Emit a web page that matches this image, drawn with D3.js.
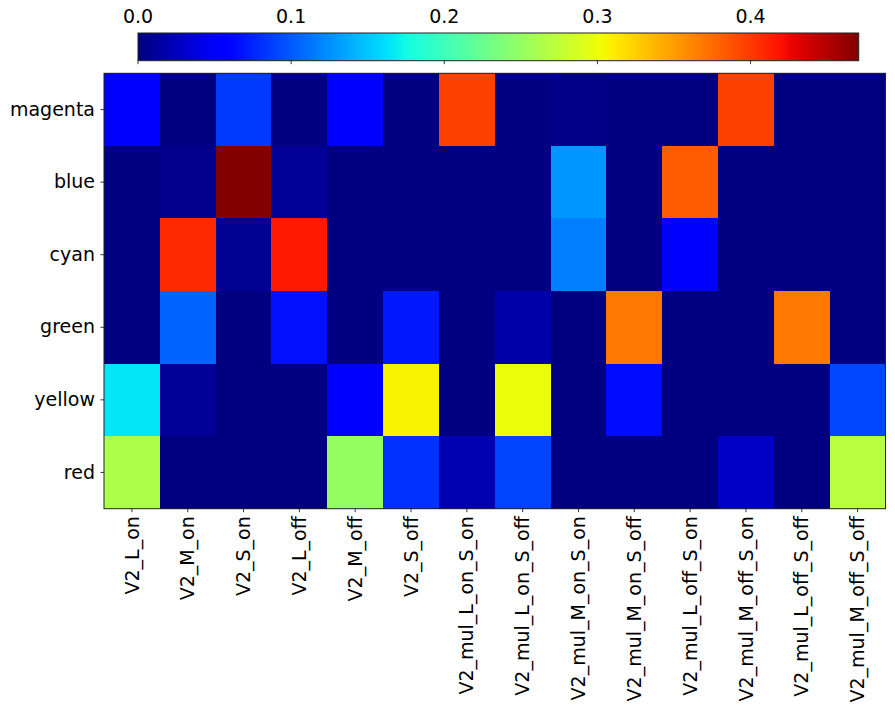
<!DOCTYPE html>
<html>
<head>
<meta charset="utf-8">
<script src="https://cdn.jsdelivr.net/npm/d3@7"></script>
<style>
  body { margin: 0; background: #fff; }
  text { font-family: "DejaVu Sans", sans-serif; fill: #000; }
</style>
</head>
<body>
<div id="chart"></div>
<script>
// row and column labels
const rows = ['magenta', 'blue', 'cyan', 'green', 'yellow', 'red'];
const cols = ['V2_L_on', 'V2_M_on', 'V2_S_on', 'V2_L_off', 'V2_M_off', 'V2_S_off',
  'V2_mul_L_on_S_on', 'V2_mul_L_on_S_off', 'V2_mul_M_on_S_on', 'V2_mul_M_on_S_off',
  'V2_mul_L_off_S_on', 'V2_mul_M_off_S_on', 'V2_mul_L_off_S_off', 'V2_mul_M_off_S_off'];

const magentaVals = [0.057, 0, 0.085, 0, 0.057, 0, 0.396, 0, 0.004, 0, 0, 0.396, 0, 0];
const blueVals    = [0, 0.005, 0.4706, 0.009, 0, 0, 0, 0, 0.128, 0, 0.383, 0, 0, 0];
const cyanVals    = [0, 0.408, 0.007, 0.416, 0, 0, 0, 0, 0.118, 0, 0.056, 0, 0, 0];
const greenVals   = [0, 0.105, 0, 0.066, 0, 0.070, 0, 0.017, 0, 0.3685, 0, 0, 0.3685, 0];
const yellowVals  = [0.165, 0.009, 0, 0, 0.058, 0.307, 0, 0.300, 0, 0.0645, 0, 0, 0, 0.092];
const redVals     = [0.264, 0, 0, 0, 0.25, 0.082, 0.020, 0.090, 0, 0, 0, 0.029, 0, 0.27];
const rowVals = [magentaVals, blueVals, cyanVals, greenVals, yellowVals, redVals];

const cbTicks = [0.0, 0.1, 0.2, 0.3, 0.4];
const vmax = 0.4706;

const W = 895, H = 720;
const plot = {left: 104, top: 73.3, right: 885.5, bottom: 508.7};
const cb = {left: 138, right: 858.7, top: 33, bottom: 60.7};
const fontSize = 19;

let svg = d3.select('#chart')
  .append('svg')
    .attr('width', W)
    .attr('height', H);

// matplotlib jet, piecewise linear per channel
let jetR = d3.scaleLinear().domain([0, 0.35, 0.66, 0.89, 1]).range([0, 0, 1, 1, 0.5]).clamp(true);
let jetG = d3.scaleLinear().domain([0, 0.125, 0.375, 0.64, 0.91, 1]).range([0, 0, 1, 1, 0, 0]).clamp(true);
let jetB = d3.scaleLinear().domain([0, 0.11, 0.34, 0.65, 1]).range([0.5, 1, 1, 0, 0]).clamp(true);
let jet = t => d3.rgb(jetR(t) * 255, jetG(t) * 255, jetB(t) * 255).formatHex();
let norm = d3.scaleLinear().domain([0, vmax]).range([0, 1]).clamp(true);

let x = d3.scaleBand().domain(cols).range([plot.left, plot.right]);
let y = d3.scaleBand().domain(rows).range([plot.top, plot.bottom]);

// cells
let cells = [];
rows.forEach((r, i) => cols.forEach((c, j) => cells.push({row: r, col: c, v: rowVals[i][j]})));

svg.append('g').attr('id', 'cells')
  .selectAll('rect')
  .data(cells)
  .enter()
  .append('rect')
    .attr('x', d => x(d.col))
    .attr('y', d => y(d.row))
    .attr('width', x.bandwidth() + 0.5)
    .attr('height', y.bandwidth() + 0.5)
    .attr('fill', d => jet(norm(d.v)))
    .attr('shape-rendering', 'crispEdges');

// axes
let xAxis = svg.append('g')
  .attr('transform', `translate(0, ${plot.bottom})`)
  .call(d3.axisBottom(x).tickSize(3.5).tickPadding(4).tickSizeOuter(0));
xAxis.select('.domain').remove();
xAxis.selectAll('.tick text')
  .attr('transform', 'rotate(-90)')
  .attr('x', -7.5)
  .attr('y', 0)
  .attr('dy', '0.35em')
  .style('text-anchor', 'end')
  .style('font-size', fontSize + 'px')
  .style('font-family', '"DejaVu Sans", sans-serif');

let yAxis = svg.append('g')
  .attr('transform', `translate(${plot.left}, 0)`)
  .call(d3.axisLeft(y).tickSize(3.5).tickPadding(5.5).tickSizeOuter(0));
yAxis.select('.domain').remove();
yAxis.selectAll('.tick text')
  .style('font-size', fontSize + 'px')
  .style('font-family', '"DejaVu Sans", sans-serif');

svg.selectAll('.tick line').attr('stroke', '#000').attr('stroke-width', 0.8);

// frame
svg.append('rect')
  .attr('x', plot.left)
  .attr('y', plot.top)
  .attr('width', plot.right - plot.left)
  .attr('height', plot.bottom - plot.top)
  .attr('fill', 'none')
  .attr('stroke', '#222')
  .attr('stroke-width', 1);

// colorbar
let grad = svg.append('defs').append('linearGradient')
  .attr('id', 'jetGrad')
  .attr('x1', '0%').attr('x2', '100%').attr('y1', '0%').attr('y2', '0%');
grad.selectAll('stop')
  .data(d3.range(0, 1.0001, 0.01))
  .enter()
  .append('stop')
    .attr('offset', d => (d * 100) + '%')
    .attr('stop-color', d => jet(d));

let cbScale = d3.scaleLinear().domain([0, vmax]).range([cb.left, cb.right]);

svg.append('rect')
  .attr('x', cb.left)
  .attr('y', cb.top)
  .attr('width', cb.right - cb.left)
  .attr('height', cb.bottom - cb.top)
  .attr('fill', 'url(#jetGrad)')
  .attr('stroke', '#222')
  .attr('stroke-width', 1);

// tick marks under the bar, labels above it
let cbG = svg.append('g');
cbG.selectAll('line')
  .data(cbTicks)
  .enter()
  .append('line')
    .attr('x1', d => cbScale(d))
    .attr('x2', d => cbScale(d))
    .attr('y1', cb.bottom)
    .attr('y2', cb.bottom + 3.5)
    .attr('stroke', '#000')
    .attr('stroke-width', 0.8);
cbG.selectAll('text')
  .data(cbTicks)
  .enter()
  .append('text')
    .attr('x', d => cbScale(d))
    .attr('y', 23)
    .attr('text-anchor', 'middle')
    .style('font-size', fontSize + 'px')
    .text(d => d3.format('.1f')(d));
</script>
</body>
</html>
